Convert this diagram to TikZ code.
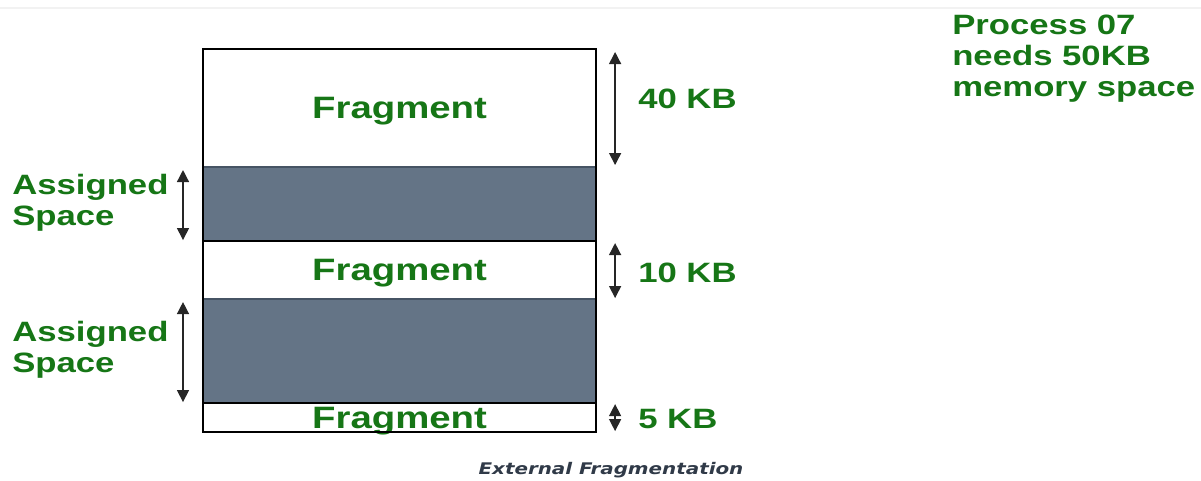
\documentclass[tikz,border=0pt]{standalone}
\usepackage{fontspec}
\setmainfont{Liberation Sans}
\newfontfamily\capfont{DejaVu Sans}
\usepackage{graphicx}
\usepackage{tikz}
\usetikzlibrary{arrows.meta,positioning,calc}

\definecolor{fgreen}{RGB}{22,118,22}
\definecolor{slate}{RGB}{100,116,134}
\definecolor{slateedge}{RGB}{70,84,100}
\definecolor{capgray}{RGB}{48,58,72}
\newcommand{\wide}[1]{\scalebox{1.24}[1]{#1}}

\tikzset{
  memblk/.style={draw=black, line width=0.0375cm, minimum width=9.825cm, inner sep=0pt, outer sep=0pt,
    text depth=0pt, font=\fontsize{22}{24}\selectfont\bfseries, text=fgreen},
  usedblk/.style={memblk, fill=slate, draw=slateedge},
  dim/.style={{Triangle[length=0.3cm,width=0.3cm]}-{Triangle[length=0.3cm,width=0.3cm]}, line width=0.035cm, black!85},
  lbl/.style={font=\fontsize{19.9}{22}\selectfont\bfseries, text=fgreen, inner sep=0pt, align=left}
}

\begin{document}
\begin{tikzpicture}[x=0.025cm, y=-0.025cm]
\useasboundingbox (0,0) rectangle (1201,480);
\draw[gray!10, line width=0.06cm] (0,8) -- (1201,8);

\node[memblk, minimum height=2.95cm, anchor=north west] (f1) at (203,49) {\wide{Fragment}};
\node[usedblk, minimum height=1.85cm, below=0pt of f1] (a1) {};
\node[memblk, minimum height=1.45cm, below=0pt of a1] (f2) {\wide{Fragment}};
\node[usedblk, minimum height=2.6cm, below=0pt of f2] (a2) {};
\node[memblk, minimum height=0.725cm, below=0pt of a2] (f3) {\wide{Fragment}};
\draw[line width=0.0375cm] (f1.north west) rectangle (f3.south east);

\draw[dim] ($(f1.north east)+(19,3)$) -- ($(f1.south east)+(19,-2)$);
\draw[dim] ($(f2.north east)+(19,2)$) -- ($(f2.south east)+(19,-1)$);
\draw[dim] ($(f3.north east)+(19,1)$) -- ($(f3.south east)+(19,-1)$);
\draw[dim] ($(a1.north west)+(-20,3)$) -- ($(a1.south west)+(-20,-1)$);
\draw[dim] ($(a2.north west)+(-20,3)$) -- ($(a2.south west)+(-20,-1)$);

\node[lbl, anchor=west] (k40) at (638,99) {\wide{40 KB}};
\node[lbl, anchor=west] (k10) at (638,273) {\wide{10 KB}};
\node[lbl, anchor=west] (k5) at (638,419) {\wide{5 KB}};
\node[lbl, anchor=west] (s1) at (12,203) {\wide{Assigned}\\\wide{Space}};
\node[lbl, anchor=west] (s2) at (12,350) {\wide{Assigned}\\\wide{Space}};
\node[lbl, anchor=north west] (proc) at (952,15) {\wide{Process 07}\\\wide{needs 50KB}\\\wide{memory space}};
\node[font=\capfont\fontsize{11.4}{13}\selectfont\bfseries\itshape, text=capgray, inner sep=0pt] (cap) at (611,470) {\wide{External Fragmentation}};
\end{tikzpicture}
\end{document}
